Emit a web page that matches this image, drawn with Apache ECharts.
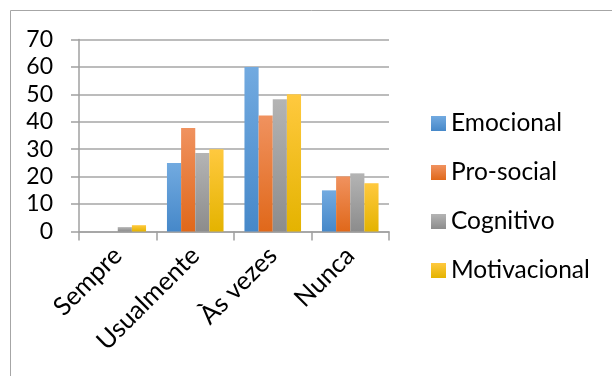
<!DOCTYPE html>
<html>
<head>
<meta charset="utf-8">
<script src="https://cdn.jsdelivr.net/npm/echarts@6/dist/echarts.min.js"></script>
<style>
  html, body { margin: 0; padding: 0; background: #fff; }
  #chart { width: 612px; height: 376px; }
</style>
</head>
<body>
<div id="chart"></div>
<script>
// Frequency categories on the x axis
const categories = ['Sempre', 'Usualmente', 'Às vezes', 'Nunca'];

// One series per dimension
const emocional    = [0, 25, 60, 15];
const proSocial    = [0, 37.7, 42.3, 20.1];
const cognitivo    = [1.6, 28.6, 48.2, 21.2];
const motivacional = [2.3, 30, 50, 17.6];

const seriesNames = ['Emocional', 'Pro-social', 'Cognitivo', 'Motivacional'];
const seriesData = [emocional, proSocial, cognitivo, motivacional];

// Vertical gradients: lighter at the top, deeper at the base
const gradients = [
  ['#72aae0', '#4688c9'],
  ['#f0925f', '#e0681a'],
  ['#b4b4b4', '#8c8c8c'],
  ['#ffc93f', '#e4b300']
];

const FONT = 'Lato';

function grad(c) {
  return new echarts.graphic.LinearGradient(0, 0, 0, 1, [
    { offset: 0, color: c[0] },
    { offset: 1, color: c[1] }
  ]);
}

const chart = echarts.init(document.getElementById('chart'), null, { renderer: 'canvas' });

chart.setOption({
  animation: false,
  backgroundColor: '#ffffff',
  graphic: [{
    type: 'rect',
    shape: { x: 10.5, y: 10.5, width: 620, height: 400 },
    style: { fill: 'none', stroke: '#a6a6a6', lineWidth: 1 },
    silent: true
  }],
  grid: { left: 79, right: 223, top: 39.5, bottom: 144.5, containLabel: false },
  legend: {
    orient: 'vertical',
    left: 431,
    top: 111,
    padding: 0,
    itemWidth: 15,
    itemHeight: 15,
    itemGap: 24,
    icon: 'rect',
    textStyle: { fontFamily: FONT, fontSize: 24.5, color: '#000', lineHeight: 24 },
    data: seriesNames
  },
  xAxis: {
    type: 'category',
    data: categories,
    boundaryGap: true,
    axisLine: { lineStyle: { color: '#a0a0a0', width: 1.5 } },
    axisTick: { show: true, alignWithLabel: false, length: 9, lineStyle: { color: '#a0a0a0', width: 1.5 } },
    axisLabel: { rotate: 45, margin: 20, fontFamily: FONT, fontSize: 25.5, color: '#000' }
  },
  yAxis: {
    type: 'value',
    min: 0,
    max: 70,
    interval: 10,
    axisLine: { show: true, lineStyle: { color: '#a0a0a0', width: 1.5 } },
    axisTick: { show: true, length: 8, lineStyle: { color: '#a0a0a0', width: 1.5 } },
    splitLine: { lineStyle: { color: '#a6a6a6', width: 1.5 } },
    axisLabel: { margin: 26, fontFamily: FONT, fontSize: 23, color: '#000' }
  },
  series: seriesNames.map((name, i) => ({
    name: name,
    type: 'bar',
    data: seriesData[i],
    barGap: '0%',
    barCategoryGap: '27%',
    itemStyle: { color: grad(gradients[i]) }
  }))
});
</script>
</body>
</html>
